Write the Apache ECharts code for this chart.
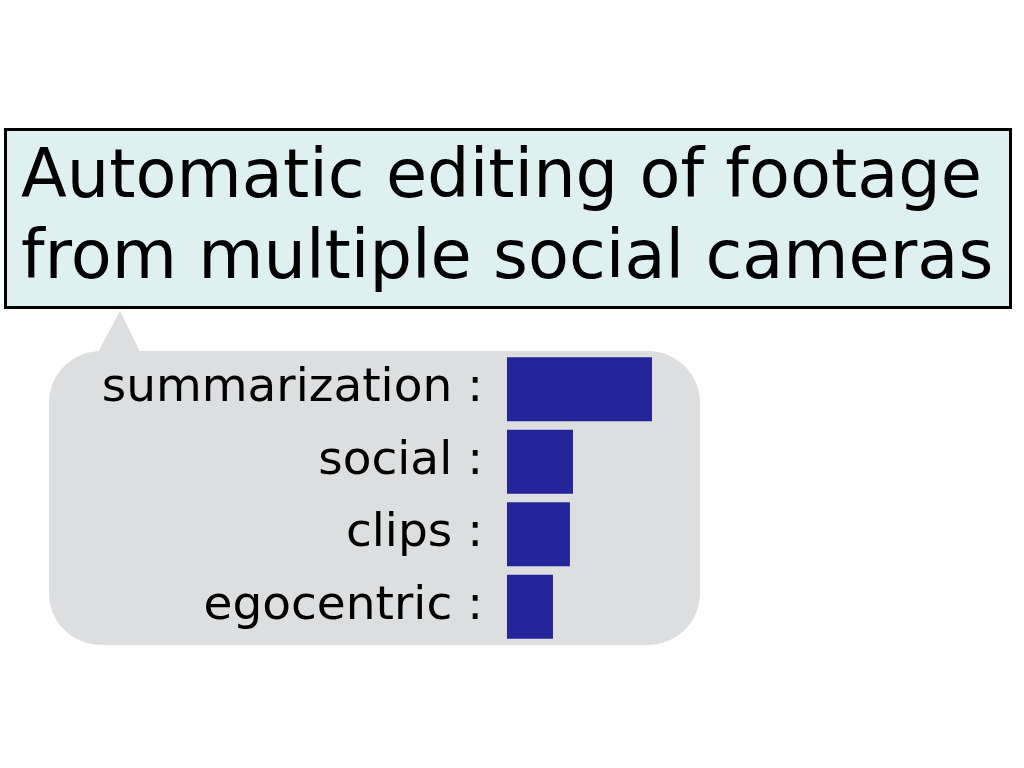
<!DOCTYPE html>
<html>
<head>
<meta charset="utf-8">
<script src="https://cdn.jsdelivr.net/npm/echarts@6/dist/echarts.min.js"></script>
<style>html,body{margin:0;padding:0;background:#fff}#c{width:1024px;height:768px}</style>
</head>
<body>
<div id="c"></div>
<script>
var titleLines = ['Automatic editing of footage', 'from multiple social cameras'];
var categories = ['summarization', 'social', 'clips', 'egocentric'];
var values = [1.00, 0.455, 0.434, 0.317];

var chart = echarts.init(document.getElementById('c'));
chart.setOption({
  backgroundColor: '#ffffff',
  animation: false,
  title: {
    text: titleLines.join('\n'),
    left: 21, top: 139, padding: 0,
    textStyle: { fontFamily: 'DejaVu Sans', fontSize: 67, fontWeight: 'normal', color: '#000', lineHeight: 81 }
  },
  graphic: [
    { type: 'rect', z: -10, shape: { x: 5.5, y: 129.5, width: 1005, height: 178 },
      style: { fill: '#dff0f0', stroke: '#000', lineWidth: 3 } },
    { type: 'polygon', z: -10, shape: { points: [[96, 356], [120, 311], [142, 356]] },
      style: { fill: '#dcdedf' } },
    { type: 'rect', z: -10, shape: { x: 49, y: 351, width: 651, height: 294, r: 52 },
      style: { fill: '#dcdedf' } }
  ],
  grid: { left: 507, top: 353, width: 145, height: 290, containLabel: false },
  xAxis: { type: 'value', min: 0, max: 1, show: false },
  yAxis: {
    type: 'category', data: categories, inverse: true,
    axisLine: { show: false }, axisTick: { show: false }, splitLine: { show: false },
    axisLabel: { margin: 24, fontFamily: 'DejaVu Sans', fontSize: 47, color: '#000',
      padding: [8, 0, 0, 0],
      formatter: function (v) { return v + ' :'; } }
  },
  series: [{
    type: 'bar', data: values, barWidth: 64,
    itemStyle: { color: '#25259b' }
  }]
});
</script>
</body>
</html>
